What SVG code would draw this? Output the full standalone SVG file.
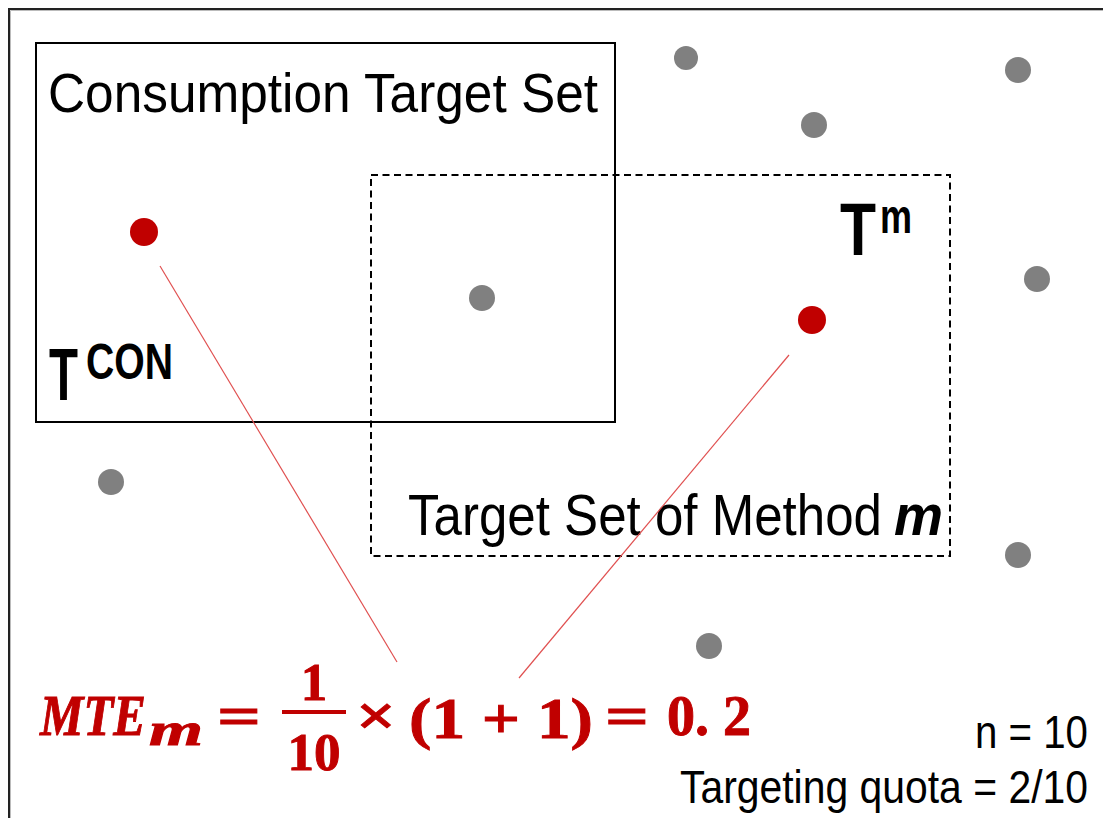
<svg xmlns="http://www.w3.org/2000/svg" width="1103" height="818" viewBox="0 0 1103 818">
<style>
.lbl{font-family:"Liberation Sans",Arial,sans-serif;fill:#000}
.bold{font-weight:bold}
.math{font-family:"Liberation Serif","Times New Roman",serif;font-weight:bold;fill:#c00000;stroke:#c00000;stroke-width:0.9}
.it{font-style:italic}
.dot{fill:#808080}
.rdot{fill:#c00000}
.conn{stroke:#e05050;stroke-width:1.2;fill:none}
</style>
<rect x="0" y="0" width="1103" height="818" fill="#fff"/>
<g id="frame">
<path d="M9 818 V9 H1103" fill="none" stroke="#222" stroke-width="2"/>
<path d="M10.5 818 V10.5 H1103" fill="none" stroke="#bbb" stroke-width="1"/>
</g>
<g id="consumption-set">
<rect x="36" y="43" width="579" height="379" fill="none" stroke="#000" stroke-width="2"/>
<text class="lbl" x="48" y="112" font-size="56" textLength="550" lengthAdjust="spacingAndGlyphs">Consumption  Target Set</text>
<text class="lbl bold"><tspan x="49" y="400" font-size="75" textLength="29" lengthAdjust="spacingAndGlyphs">T</tspan><tspan x="86" y="379" font-size="50" textLength="87" lengthAdjust="spacingAndGlyphs">CON</tspan></text>
</g>
<g id="method-set">
<rect x="371" y="175" width="579" height="381" fill="none" stroke="#000" stroke-width="2" stroke-dasharray="7 4.5"/>
<text class="lbl" font-size="58"><tspan x="408" y="535" textLength="474" lengthAdjust="spacingAndGlyphs">Target Set of Method</tspan><tspan x="894" y="535" class="bold it" textLength="49" lengthAdjust="spacingAndGlyphs">m</tspan></text>
<text class="lbl bold"><tspan x="840" y="255" font-size="74" textLength="36" lengthAdjust="spacingAndGlyphs">T</tspan><tspan x="880" y="233" font-size="48" textLength="32" lengthAdjust="spacingAndGlyphs">m</tspan></text>
</g>
<g id="connectors">
<line class="conn" x1="160" y1="266" x2="397" y2="662"/>
<line class="conn" x1="789" y1="355" x2="519" y2="678"/>
</g>
<g id="points">
<circle class="dot" cx="686" cy="58" r="12"/>
<circle class="dot" cx="1018" cy="70" r="13"/>
<circle class="dot" cx="814" cy="125" r="13"/>
<circle class="dot" cx="482" cy="298" r="13"/>
<circle class="dot" cx="1037" cy="279" r="13"/>
<circle class="dot" cx="111" cy="482" r="13"/>
<circle class="dot" cx="1018" cy="555" r="13"/>
<circle class="dot" cx="709" cy="646" r="13"/>
<circle class="rdot" cx="144" cy="232" r="14"/>
<circle class="rdot" cx="812" cy="320" r="14"/>
</g>
<g id="formula">
<text class="math it"><tspan x="40" y="735" font-size="56" textLength="106" lengthAdjust="spacingAndGlyphs">MTE</tspan><tspan x="149" y="745" font-size="46" textLength="54" lengthAdjust="spacingAndGlyphs">m</tspan></text>
<text class="math" x="217" y="735" font-size="56" textLength="44" lengthAdjust="spacingAndGlyphs">=</text>
<text class="math" x="314" y="700" font-size="53" text-anchor="middle">1</text>
<rect x="282" y="710" width="64" height="4" fill="#c00000"/>
<text class="math" x="314" y="770" font-size="53" text-anchor="middle">10</text>
<text class="math" x="356" y="735" font-size="56" textLength="40" lengthAdjust="spacingAndGlyphs">×</text>
<text class="math" x="409" y="738" font-size="58" textLength="184" lengthAdjust="spacingAndGlyphs">(1 + 1)</text>
<text class="math" x="605" y="735" font-size="56" textLength="44" lengthAdjust="spacingAndGlyphs">=</text>
<text class="math" x="667" y="735" font-size="56" textLength="84" lengthAdjust="spacingAndGlyphs">0. 2</text>
</g>
<g id="info">
<text class="lbl" x="1088" y="748" font-size="46" text-anchor="end" textLength="113" lengthAdjust="spacingAndGlyphs">n = 10</text>
<text class="lbl" x="1088" y="803" font-size="46" text-anchor="end" textLength="408" lengthAdjust="spacingAndGlyphs">Targeting quota = 2/10</text>
</g>
</svg>
